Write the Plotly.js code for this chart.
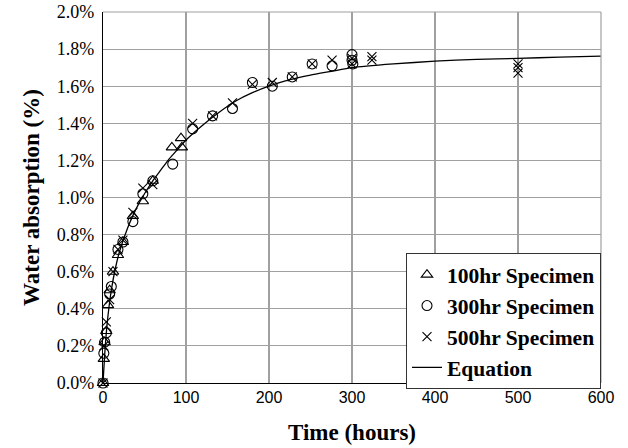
<!DOCTYPE html>
<html><head><meta charset="utf-8">
<script src="https://cdn.plot.ly/plotly-3.0.1.min.js"></script>
<style>html,body{margin:0;padding:0;background:#fff;}#chart{width:628px;height:448px;}</style>
</head><body><div id="chart"></div>
<script>
// 100hr specimen (triangles)
const t100 = [0, 1, 2, 4, 6, 8, 12, 18, 24, 36, 48, 60, 83, 94, 95];
const w100 = [0, 0.13, 0.22, 0.28, 0.42, 0.50, 0.60, 0.69, 0.76, 0.90, 0.98, 1.09, 1.27, 1.32, 1.27];
// 300hr specimen (circles)
const t300 = [0, 1, 2, 4, 8, 10, 18, 24, 36, 48, 60, 84, 108, 132, 156, 180, 204, 228, 252, 276, 300, 300, 301];
const w300 = [0, 0.16, 0.22, 0.27, 0.48, 0.52, 0.72, 0.76, 0.87, 1.02, 1.09, 1.18, 1.37, 1.44, 1.48, 1.62, 1.60, 1.65, 1.72, 1.71, 1.77, 1.74, 1.72];
// 500hr specimen (crosses)
const t500 = [0, 1, 4, 8, 12, 18, 24, 36, 48, 60, 108, 132, 156, 180, 204, 228, 252, 276, 300, 300, 324, 324, 500, 500, 500];
const w500 = [0, 0.20, 0.33, 0.45, 0.60, 0.72, 0.77, 0.92, 1.05, 1.07, 1.40, 1.44, 1.51, 1.61, 1.62, 1.65, 1.72, 1.74, 1.75, 1.72, 1.76, 1.74, 1.72, 1.70, 1.67];
// Equation curve
const tEq = [0, 2, 5, 10, 15, 20, 30, 40, 50, 60, 70, 80, 90, 100, 120, 140, 160, 180, 200, 225, 250, 275, 300, 350, 400, 450, 500, 550, 600];
const wEq = [0, 0.15, 0.32, 0.50, 0.62, 0.71, 0.84, 0.94, 1.02, 1.09, 1.15, 1.21, 1.26, 1.31, 1.39, 1.46, 1.52, 1.565, 1.60, 1.635, 1.66, 1.68, 1.70, 1.72, 1.735, 1.745, 1.75, 1.757, 1.762];

const names = ['100hr Specimen', '300hr Specimen', '500hr Specimen', 'Equation'];
const serif = '"Liberation Serif", "Times New Roman", serif';
const mk = (sym, sz) => ({symbol: sym, size: sz, color: '#000', line: {color: '#000', width: 1.1}});

const data = [
  {x: t100, y: w100, name: names[0], mode: 'markers', type: 'scatter', marker: mk('triangle-up-open', 10), cliponaxis: false},
  {x: t300, y: w300, name: names[1], mode: 'markers', type: 'scatter', marker: mk('circle-open', 10), cliponaxis: false},
  {x: t500, y: w500, name: names[2], mode: 'markers', type: 'scatter', marker: mk('x-thin-open', 9), cliponaxis: false},
  {x: tEq, y: wEq, name: names[3], mode: 'lines', type: 'scatter', line: {color: '#000', width: 1.3, shape: 'spline', smoothing: 0.5}}
];

const layout = {
  width: 628, height: 448,
  margin: {l: 103, r: 27, t: 12, b: 65},
  paper_bgcolor: '#fff', plot_bgcolor: '#fff',
  showlegend: true,
  legend: {
    x: 1, xanchor: 'right', y: 0.35, yanchor: 'top',
    bgcolor: '#fff', bordercolor: '#333', borderwidth: 1,
    font: {family: serif, size: 21.5, color: '#000', weight: 'bold'},
    tracegroupgap: 0, itemwidth: 30
  },
  xaxis: {
    range: [0, 600], dtick: 100, tick0: 0,
    showgrid: true, gridcolor: '#a0a0a0', gridwidth: 1.2,
    showline: true, linecolor: '#000', linewidth: 1.2,
    zeroline: false, ticks: '',
    tickfont: {family: '"Liberation Sans", Arial, sans-serif', size: 16, color: '#000'},
    title: {text: 'Time (hours)', standoff: 18, font: {family: serif, size: 23, color: '#000', weight: 'bold'}}
  },
  yaxis: {
    range: [0, 2], dtick: 0.2, tick0: 0,
    tickformat: '.1f', ticksuffix: '%',
    showgrid: true, gridcolor: '#a0a0a0', gridwidth: 1.2,
    showline: true, linecolor: '#000', linewidth: 1.2,
    zeroline: false, ticks: '', ticklabelstandoff: 4,
    tickfont: {family: serif, size: 18, color: '#000'},
    title: {text: 'Water absorption (%)', standoff: 10, font: {family: serif, size: 23, color: '#000', weight: 'bold'}}
  },
  shapes: [
    {type: 'line', xref: 'paper', yref: 'paper', x0: 0, x1: 1, y0: 1, y1: 1, line: {color: '#a0a0a0', width: 1.2}},
    {type: 'line', xref: 'paper', yref: 'paper', x0: 1, x1: 1, y0: 0, y1: 1, line: {color: '#a0a0a0', width: 1.2}}
  ]
};

Plotly.newPlot('chart', data, layout, {displayModeBar: false, staticPlot: true});
</script>
</body></html>
